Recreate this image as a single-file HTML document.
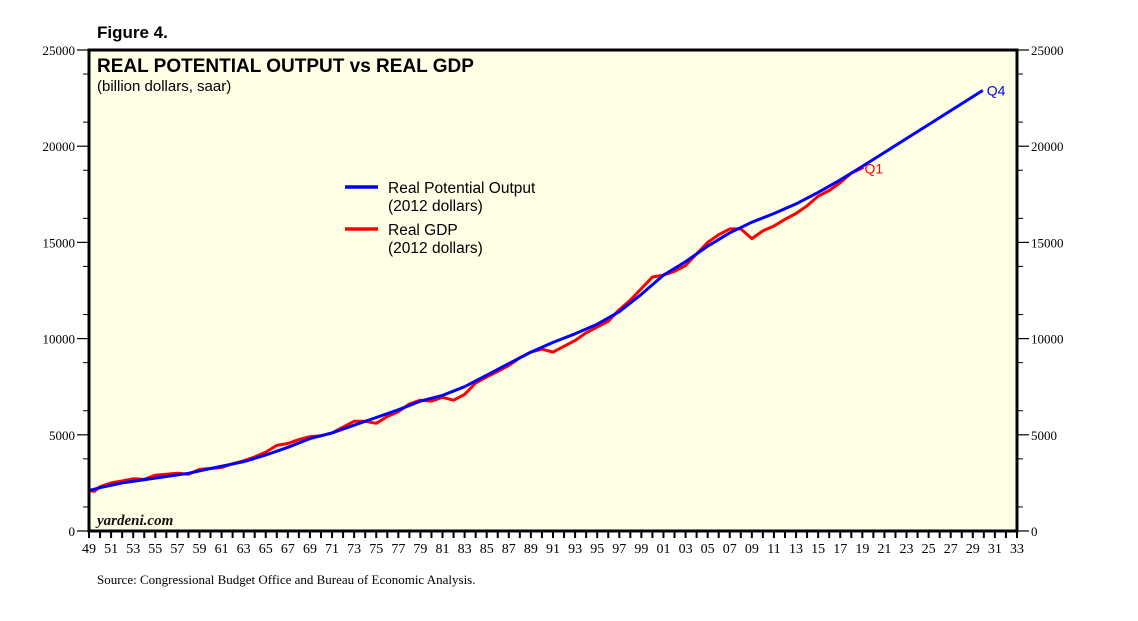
<!DOCTYPE html>
<html><head><meta charset="utf-8"><style>
body{margin:0;background:#fff;}
svg{display:block;font-family:"Liberation Sans",sans-serif;}
</style></head><body>
<svg id="c" width="1138" height="621" xmlns="http://www.w3.org/2000/svg">
<rect x="89" y="50" width="928" height="481" fill="#ffffe6"/>
<g id="grid"></g>
<g id="series"></g>
<rect x="89" y="50" width="928" height="481" fill="none" stroke="#000" stroke-width="3"/>
<text x="97" y="38" font-size="17" font-weight="bold">Figure 4.</text>
<text x="97" y="72" font-size="19" font-weight="bold">REAL POTENTIAL OUTPUT vs REAL GDP</text>
<text x="97" y="91" font-size="15">(billion dollars, saar)</text>
<g>
<line x1="345" y1="187" x2="378" y2="187" stroke="#0000ff" stroke-width="3.5"/>
<text x="388" y="193" font-size="15.5">Real Potential Output</text>
<text x="388" y="211" font-size="15.5">(2012 dollars)</text>
<line x1="345" y1="229" x2="378" y2="229" stroke="#ff0000" stroke-width="3.5"/>
<text x="388" y="235" font-size="15.5">Real GDP</text>
<text x="388" y="253" font-size="15.5">(2012 dollars)</text>
</g>
<text x="97" y="525" font-size="15" font-style="italic" font-weight="bold" font-family="Liberation Serif,serif" fill="#111">yardeni.com</text>
<text x="97" y="584" font-size="13" font-family="Liberation Serif,serif">Source: Congressional Budget Office and Bureau of Economic Analysis.</text>
</svg>
<script>
const potYears=[1949,1950,1952,1955,1958,1960,1963,1965,1967,1969,1971,1973,1975,1977,1979,1981,1983,1985,1987,1989,1991,1993,1995,1997,1999,2001,2003,2005,2007,2009,2011,2013,2015,2017,2019,2021,2023,2025,2027,2029.9];
const potValues=[2100,2250,2500,2750,3000,3250,3600,3950,4350,4800,5100,5500,5900,6300,6750,7050,7500,8100,8700,9300,9800,10250,10750,11400,12300,13300,14000,14800,15500,16050,16500,17000,17600,18250,18950,19675,20400,21125,21850,22900];
const gdpYears=[1949,1949.5,1950,1951,1952,1953,1954,1955,1956,1957,1958,1959,1960,1961,1962,1963,1964,1965,1966,1967,1968,1969,1970,1971,1972,1973,1974,1975,1976,1977,1978,1979,1980,1981,1982,1983,1984,1985,1986,1987,1988,1989,1990,1991,1992,1993,1994,1995,1996,1997,1998,1999,2000,2001,2002,2003,2004,2005,2006,2007,2008,2009,2010,2011,2012,2013,2014,2015,2016,2017,2018,2019.1];
const gdpValues=[2100,2070,2300,2500,2600,2720,2680,2900,2950,3000,2950,3200,3250,3300,3500,3650,3850,4100,4450,4550,4750,4900,4950,5100,5400,5700,5700,5600,5950,6200,6600,6800,6750,6950,6800,7100,7700,8000,8300,8600,9000,9300,9450,9300,9600,9900,10300,10600,10900,11500,12000,12600,13200,13300,13500,13800,14400,15000,15400,15700,15700,15200,15600,15850,16200,16500,16900,17400,17700,18100,18600,18900];
const yTicks=[0,5000,10000,15000,20000,25000];
const X0=89,X1=1017,Y0=531,Y1=50,YR0=1949,YR1=2033;
const xs=v=>X0+(v-YR0)/(YR1-YR0)*(X1-X0);
const ys=v=>Y0-v/25000*(Y0-Y1);
const NS="http://www.w3.org/2000/svg";
const g=document.getElementById('grid'),s=document.getElementById('series');
function mk(t,a,p){const e=document.createElementNS(NS,t);for(const k in a)e.setAttribute(k,a[k]);p.appendChild(e);return e;}
yTicks.forEach(v=>{
 const y=ys(v);
 let l=mk('line',{x1:X0-12,x2:X0,y1:y,y2:y,stroke:'#000','stroke-width':1.2},g);
 
 
 l=mk('line',{x1:X1,x2:X1+12,y1:y,y2:y,stroke:'#000','stroke-width':1.2},g);
 
 
 let t=mk('text',{x:X0-14,y:y+5,'text-anchor':'end','font-size':13,'font-family':'Liberation Serif,serif'},g);t.textContent=v;
 
 
 t=mk('text',{x:X1+14,y:y+5,'font-size':13,'font-family':'Liberation Serif,serif'},g);t.textContent=v;
 
 
});
for(let v=1250;v<25000;v+=2500){ if(v%5000===0)continue;
 const y=ys(v);
 let l=mk('line',{x1:X0-6,x2:X0,y1:y,y2:y,stroke:'#000'},g);
 
 
 l=mk('line',{x1:X1,x2:X1+6,y1:y,y2:y,stroke:'#000'},g);
 
 
}
for(let yr=YR0;yr<=YR1;yr++){
 const x=xs(yr);
 let l=mk('line',{x1:x,x2:x,y1:Y0,y2:Y0+7,stroke:'#000','stroke-width':2},g);
 
 
 if((yr-YR0)%2===0){
  let t=mk('text',{x:x,y:Y0+22,'text-anchor':'middle','font-size':14,'font-family':'Liberation Serif,serif'},g);
  t.textContent=String(yr%100).padStart(2,'0');
  
  
 }
}
function path(xa,va,col,name){
 const d=xa.map((x,i)=>(i?'L':'M')+xs(x).toFixed(1)+','+ys(va[i]).toFixed(1)).join('');
 const p=mk('path',{d:d,fill:'none',stroke:col,'stroke-width':3,'stroke-linejoin':'round'},s);
 
 
}
path(gdpYears,gdpValues,'#ff0000','gdp-line');
path(potYears,potValues,'#0000ff','potential-output-line');
let t=mk('text',{x:xs(potYears[potYears.length-1])+4,y:ys(potValues[potValues.length-1])+5,'font-size':14,fill:'#0000ff'},s);t.textContent='Q4';


t=mk('text',{x:xs(gdpYears[gdpYears.length-1])+1,y:ys(gdpValues[gdpValues.length-1])+6,'font-size':14,fill:'#ff0000'},s);t.textContent='Q1';


</script>
</body></html>
